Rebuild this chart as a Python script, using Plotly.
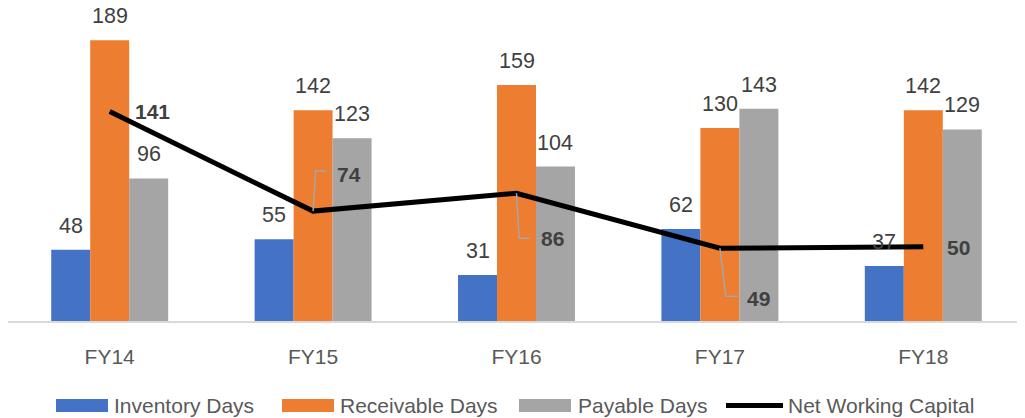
import plotly.graph_objects as go

categories = ["FY14", "FY15", "FY16", "FY17", "FY18"]
inventory_days = [48, 55, 31, 62, 37]
receivable_days = [189, 142, 159, 130, 142]
payable_days = [96, 123, 104, 143, 129]
net_working_capital = [141, 74, 86, 49, 50]

BLUE, ORANGE, GRAY = "#4472C4", "#ED7D31", "#A5A5A5"
VAL_COLOR, TICK_COLOR = "#404040", "#595959"
FONT = "Liberation Sans, Arial, sans-serif"
BARGAP = 0.425
BW = (1 - BARGAP) / 3

# the page body adds an 8px offset; layout below is in figure pixels
OFF = 8
W, H = 1017, 410
ML, MR, MT, MB = 0, 0, 24 - OFF, 97
PW, PH = W - ML - MR, H - MT - MB


def px_x(p):  # screen pixel -> paper
    return (p - OFF - ML) / PW


def px_y(p):
    return (H - MB - (p - OFF)) / PH


fig = go.Figure()
series = [("Inventory Days", inventory_days, BLUE),
          ("Receivable Days", receivable_days, ORANGE),
          ("Payable Days", payable_days, GRAY)]
for name, vals, col in series:
    fig.add_trace(go.Bar(x=categories, y=vals, name=name, marker=dict(color=col, line=dict(width=0))))

fig.add_trace(go.Scatter(x=categories, y=net_working_capital, name="Net Working Capital",
                         mode="lines", line=dict(color="black", width=5)))

annotations = []
shapes = []
# bar value labels
for k, (name, vals, col) in enumerate(series):
    off = (k - 1) * BW
    for i, v in enumerate(vals):
        annotations.append(dict(x=i + off, y=v, xref="x", yref="y", text=str(v), showarrow=False,
                                yanchor="middle", xanchor="center", yshift=24,
                                font=dict(family=FONT, size=21.5, color=VAL_COLOR)))

# line labels: (label xshift, label yshift, leader path or None)
line_label_layout = [
    (23, 0, None),
    (22, 37, "M 0 0 L 2.5 40 L 13.5 40"),
    (22, -45, "M 0 0 L 2.6 -45 L 13.3 -45"),
    (25, -50, "M 0 0 L 6 -48 L 18 -48"),
    (22, -1, None),
]
for i, v in enumerate(net_working_capital):
    xs, ys, path = line_label_layout[i]
    annotations.append(dict(x=i, y=v, xref="x", yref="y", text="<b>%d</b>" % v, showarrow=False,
                            xanchor="left", yanchor="middle", xshift=xs, yshift=ys,
                            font=dict(family=FONT, size=21, color=VAL_COLOR)))
    if path:
        shapes.append(dict(type="path", xref="x", yref="y", xsizemode="pixel", ysizemode="pixel",
                           xanchor=i, yanchor=v, path=path,
                           line=dict(color="#A6A6A6", width=1.5), layer="above"))

# custom legend (screen pixel layout): symbol x0, x1, text x
legend_layout = [(56, 108, 112), (282, 334, 338), (519, 571, 576), (726, 783, 786)]
legend_names = ["Inventory Days", "Receivable Days", "Payable Days", "Net Working Capital"]
legend_colors = [BLUE, ORANGE, GRAY, "black"]
LEG_Y = 405.5
for j, (x0, x1, tx) in enumerate(legend_layout):
    if j < 3:
        shapes.append(dict(type="rect", xref="paper", yref="paper", x0=px_x(x0), x1=px_x(x1),
                           y0=px_y(LEG_Y - 6.5), y1=px_y(LEG_Y + 6.5),
                           fillcolor=legend_colors[j], line=dict(width=0)))
    else:
        shapes.append(dict(type="line", xref="paper", yref="paper", x0=px_x(x0), x1=px_x(x1),
                           y0=px_y(LEG_Y), y1=px_y(LEG_Y),
                           line=dict(color=legend_colors[j], width=5)))
    annotations.append(dict(x=px_x(tx), y=px_y(LEG_Y), xref="paper", yref="paper",
                            text=legend_names[j], showarrow=False, xanchor="left", yanchor="middle",
                            font=dict(family=FONT, size=21, color=TICK_COLOR)))

fig.update_layout(
    width=W, height=H,
    margin=dict(l=ML, r=MR, t=MT, b=MB, autoexpand=False),
    paper_bgcolor="white", plot_bgcolor="white",
    barmode="group", bargap=BARGAP, bargroupgap=0,
    showlegend=False,
    annotations=annotations, shapes=shapes,
    hovermode=False,
)
fig.update_xaxes(showline=True, linecolor="#D9D9D9", linewidth=2, showgrid=False, zeroline=False,
                 tickfont=dict(family=FONT, size=21, color=TICK_COLOR), ticks="", ticklabelstandoff=16)
fig.update_yaxes(range=[0, 200], visible=False, showgrid=False, zeroline=False)

fig.write_html("out.html")
